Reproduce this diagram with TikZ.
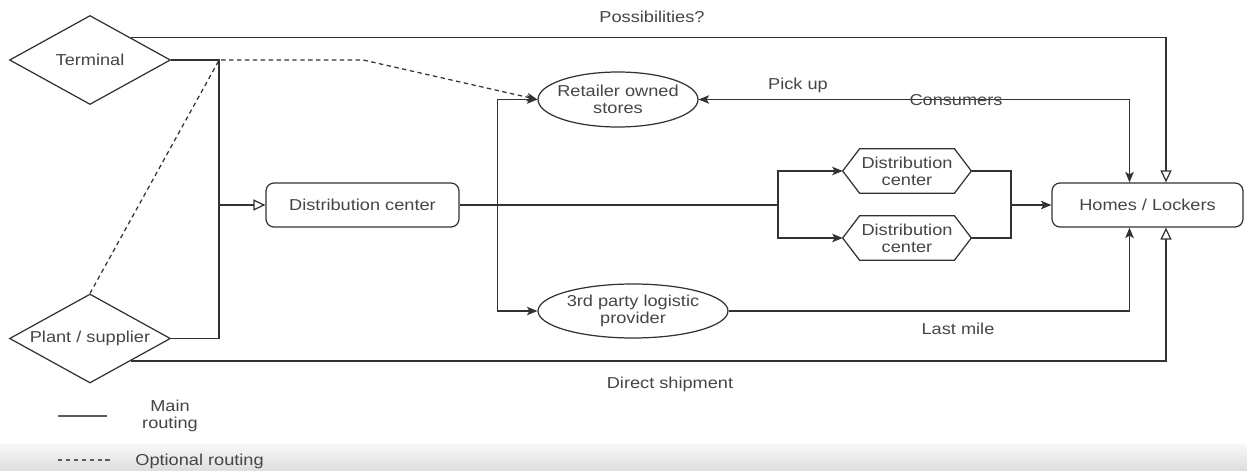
\documentclass[tikz,border=0pt]{standalone}
\usepackage{fontspec}
\setmainfont{Liberation Sans}[FakeStretch=1.15]
\usetikzlibrary{arrows.meta,shapes.geometric,calc}
\definecolor{lc}{RGB}{50,50,50}
\definecolor{tc}{RGB}{70,70,70}
\definecolor{bandtop}{RGB}{248,248,248}
\definecolor{bandbot}{RGB}{222,222,222}
\begin{document}
\begin{tikzpicture}[x=0.02cm,y=-0.02cm,
  font=\fontsize{9}{9.6}\selectfont, text=tc,
  line/.style={draw=lc,line width=0.7pt},
  farr/.style={line,-{Stealth[length=0.21cm,width=0.17cm,inset=0.05cm]}},
  oarr/.style={line,-{Triangle[open,length=0.24cm,width=0.22cm,fill=white]}},
  bfarr/.style={line,{Stealth[length=0.21cm,width=0.17cm,inset=0.05cm]}-{Stealth[length=0.21cm,width=0.17cm,inset=0.05cm]}},
  optl/.style={line,dash pattern=on 2.5pt off 2pt},
  diam/.style={line,diamond,minimum width=3.22cm,minimum height=1.78cm,inner sep=0pt},
  rbox/.style={line,rectangle,rounded corners=0.16cm,minimum height=0.88cm,inner sep=0pt},
  ell/.style={line,ellipse,inner sep=0pt},
  hexn/.style={rectangle,minimum width=2.56cm,minimum height=0.88cm,inner sep=0pt,align=center},
  lbl/.style={align=center,inner sep=0pt},
  txt/.style={inner sep=0pt,align=center}]
\useasboundingbox (0,0) rectangle (1247,470);
\fill[white] (0,0) rectangle (1247,470);
\shade[top color=bandtop,bottom color=bandbot] (0,444) rectangle (1247,470);

% nodes
\node[diam,label={[lbl]center:Terminal}] (term) at (90,60) {};
\node[diam,label={[lbl]center:Plant / supplier}] (plant) at (90,338.5) {};
\node[rbox,minimum width=3.86cm] (dc) at (362.5,205) {Distribution center};
\node[rbox,minimum width=3.82cm] (homes) at (1147.5,205) {Homes / Lockers};
\node[ell,minimum width=3.2cm,minimum height=1.1cm,label={[lbl]center:Retailer owned\\stores}] (ret) at (618,99.5) {};
\node[ell,minimum width=3.8cm,minimum height=1.08cm,label={[lbl]center:3rd party logistic\\provider}] (tpl) at (633,311) {};
\node[hexn] (h1) at (907,171) {Distribution\\center};
\node[hexn] (h2) at (907,238) {Distribution\\center};
\foreach \h in {h1,h2}{
  \draw[line] (\h.west) -- ($(\h.north west)+(17,0)$) -- ($(\h.north east)+(-17,0)$) -- (\h.east)
    -- ($(\h.south east)+(-17,0)$) -- ($(\h.south west)+(17,0)$) -- cycle;
}

% helper coordinates
\coordinate (jt) at ($(term.east)+(48,0)$);
\coordinate (bend) at ($(jt)+(144,0)$);
\coordinate (b) at ($(dc.east)+(38,0)$);
\coordinate (split) at (778,205);
\coordinate (merge) at (1011,205);
\coordinate (hpn) at ($(homes.north)+(18.5,0)$);
\coordinate (hcn) at ($(homes.north)+(-18,0)$);
\coordinate (hps) at ($(homes.south)+(18.5,0)$);
\coordinate (hcs) at ($(homes.south)+(-18,0)$);

% connectors
\draw[oarr] (term.north east) -| (hpn);
\draw[line] (term.east) -- (jt) |- (plant.east);
\draw[oarr] (jt |- dc.west) -- (dc.west);
\draw[optl,-{Stealth[length=0.21cm,width=0.17cm,inset=0.05cm]}] (plant.north) -- (jt) -- (bend) -- (ret.west);
\draw[line] (dc.east) -- (split);
\draw[farr] (b) |- (ret.west);
\draw[farr] (b) |- (tpl.west);
\draw[farr] (split) |- (h1.west);
\draw[farr] (split) |- (h2.west);
\draw[line] (h1.east) -| (merge);
\draw[line] (h2.east) -| (merge);
\draw[farr] (merge) -- (homes.west);
\draw[bfarr] (ret.east) -| (hcn);
\draw[farr] (tpl.east) -| (hcs);
\draw[oarr] (plant.south east) -| (hps);

% labels
\node[txt] (lposs) at (652,17) {Possibilities?};
\node[txt] (lpick) at (798,85) {Pick up};
\node[txt] (lcons) at (956,100) {Consumers};
\node[txt] (llast) at (958,329) {Last mile};
\node[txt] (ldirect) at (670,384) {Direct shipment};

% legend
\coordinate (la1) at (58,416);
\coordinate (la2) at (107,416);
\coordinate (lb1) at (58,460);
\coordinate (lb2) at (112,460);
\draw[line,draw=lc!80] (la1) -- (la2);
\draw[optl,draw=lc!80] (lb1) -- (lb2);
\node[txt] (lmain) at (170,416) {Main\\routing};
\node[txt,anchor=west] (lopt) at (135,461) {Optional routing};
\end{tikzpicture}
\end{document}
